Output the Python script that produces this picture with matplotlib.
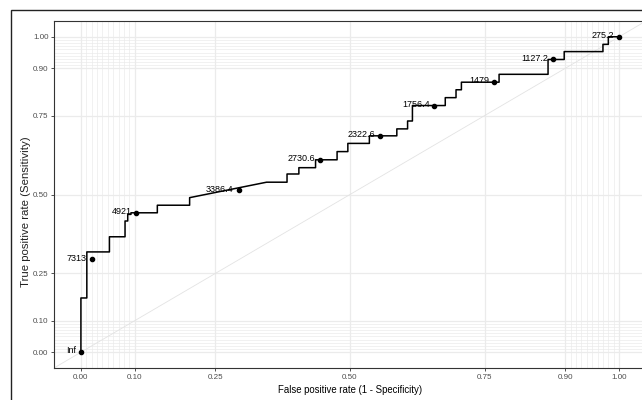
import numpy as np
import matplotlib
matplotlib.use("Agg")
import matplotlib.pyplot as plt
from matplotlib.patches import Rectangle

plt.rcParams['font.family'] = ['Liberation Sans', 'DejaVu Sans']

# step path of the ROC curve (false positive rate, true positive rate)
fpr = [0, 0, 0.011, 0.011, 0.053, 0.053, 0.082, 0.082, 0.087, 0.087, 0.093, 0.093,
       0.142, 0.142, 0.202, 0.202, 0.345, 0.383, 0.383, 0.405, 0.405, 0.436, 0.436,
       0.476, 0.476, 0.496, 0.496, 0.536, 0.536, 0.587, 0.587, 0.607, 0.607, 0.616,
       0.616, 0.677, 0.677, 0.697, 0.697, 0.707, 0.707, 0.777, 0.777, 0.868, 0.868,
       0.898, 0.898, 0.970, 0.970, 0.980, 0.980, 1.0]
tpr = [0, 0.172, 0.172, 0.318, 0.318, 0.366, 0.366, 0.416, 0.416, 0.437, 0.437, 0.442,
       0.442, 0.466, 0.466, 0.490, 0.539, 0.539, 0.565, 0.565, 0.585, 0.585, 0.610,
       0.610, 0.636, 0.636, 0.662, 0.662, 0.686, 0.686, 0.708, 0.708, 0.733, 0.733,
       0.782, 0.782, 0.807, 0.807, 0.832, 0.832, 0.856, 0.856, 0.881, 0.881, 0.928,
       0.928, 0.953, 0.953, 0.976, 0.976, 1.0, 1.0]

# labelled cutoffs
cut_fpr = [0.0, 0.020, 0.103, 0.293, 0.444, 0.556, 0.657, 0.768, 0.878, 1.0]
cut_tpr = [0.0, 0.294, 0.442, 0.513, 0.610, 0.686, 0.782, 0.856, 0.928, 1.0]
cut_labels = ['Inf', '7313', '4921', '3386.4', '2730.6', '2322.6', '1756.4', '1479', '1127.2', '275.2']

breaks = [0, 0.1, 0.25, 0.5, 0.75, 0.9, 1.0]
break_labels = ['0.00', '0.10', '0.25', '0.50', '0.75', '0.90', '1.00']
minor_breaks = [i / 100 for i in range(0, 11)] + [i / 100 for i in range(90, 101)]

fig = plt.figure(figsize=(6.42, 4.0), dpi=100)
ax = fig.add_axes([54 / 642, 32 / 400, 592 / 642, 347 / 400])

# outer border (plot.background)
fig.patches.append(Rectangle((11 / 642, -0.05), 1.1, 0.975 + 0.05, transform=fig.transFigure,
                             fill=False, edgecolor='#222222', linewidth=1.0, clip_on=False))

ax.set_xlim(-0.05, 1.05)
ax.set_ylim(-0.05, 1.05)

for v in minor_breaks:
    ax.axvline(v, color='#EBEBEB', lw=0.5, zorder=0)
    ax.axhline(v, color='#EBEBEB', lw=0.5, zorder=0)
for v in breaks:
    ax.axvline(v, color='#EBEBEB', lw=0.9, zorder=0)
    ax.axhline(v, color='#EBEBEB', lw=0.9, zorder=0)

ax.axline((0, 0), (1, 1), color='#E3E3E3', lw=0.6, zorder=1)

ax.plot(fpr, tpr, color='black', lw=1.1, zorder=3)
ax.plot(cut_fpr, cut_tpr, 'o', color='black', ms=3, zorder=4)
for x, y, lab in zip(cut_fpr, cut_tpr, cut_labels):
    ax.annotate(lab, (x, y), xytext=(-3.5, 1), textcoords='offset points',
                ha='right', va='center', fontsize=6.5, color='black', zorder=5)

ax.set_xticks(breaks)
ax.set_xticklabels(break_labels)
ax.set_yticks(breaks)
ax.set_yticklabels(break_labels)
ax.tick_params(length=2, width=0.6, color='#333333', labelsize=5.8, labelcolor='#4D4D4D', pad=2)

for s in ax.spines.values():
    s.set_color('#333333')
    s.set_linewidth(0.8)

ax.set_xlabel('False positive rate (1 - Specificity)', fontsize=6.9, labelpad=3)
ax.set_ylabel('True positive rate (Sensitivity)', fontsize=8.2, color='#222222')
ax.yaxis.set_label_coords(-0.039, 0.45)

fig.savefig('out.png', dpi=100)
